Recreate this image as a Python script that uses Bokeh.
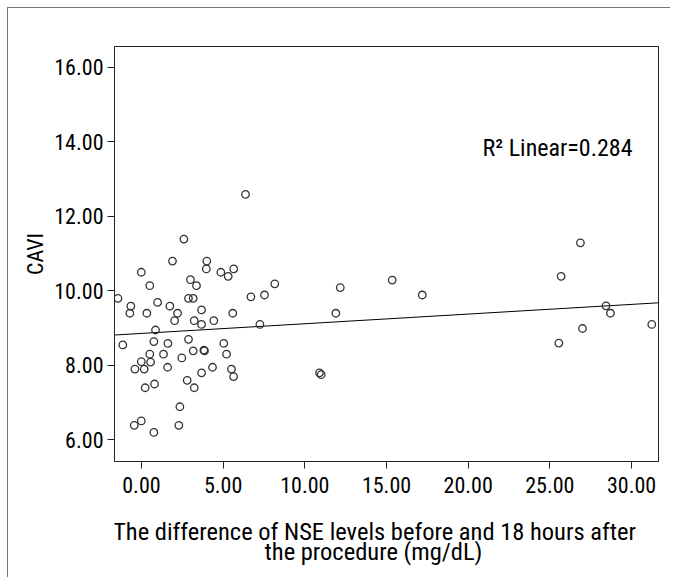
from bokeh.plotting import figure
from bokeh.layouts import column
from bokeh.embed import file_html
from bokeh.resources import INLINE
from bokeh.models import NumeralTickFormatter, FixedTicker, Label, Range1d

# Data: NSE difference (x) vs CAVI (y)
nse_diff = [
    -1.14, 0.76, 1.62, 2.88, 5.04, 0.51, 1.35, -0.01, 0.56, 2.47,
    3.17, 3.82, 3.86, 5.21, -0.40, 0.17, 1.60, 4.35, 5.51, 3.68,
    5.64, 2.80, 0.80, 0.23, 3.23, 2.35, -0.01, -0.44, 2.29, 0.76,
    6.37, 2.60, 1.90, 4.00, -0.01, 3.97, 4.86, 5.31, 5.65, 3.00,
    3.37, 0.51, 8.16, -1.44, 2.88, 3.17, 6.70, 7.53, -0.65, -0.71,
    0.99, 1.74, 2.21, 0.33, 3.68, 5.59, 2.03, 3.23, 3.68, 4.43,
    7.25, 0.86,
    26.87, 25.69, 15.35, 12.17, 17.19, 11.90, 28.44, 28.71, 31.24, 27.00,
    25.55, 10.90, 11.00,
]
cavi = [
    8.55, 8.64, 8.59, 8.70, 8.59, 8.30, 8.30, 8.10, 8.09, 8.20,
    8.39, 8.41, 8.39, 8.30, 7.90, 7.90, 7.95, 7.95, 7.90, 7.80,
    7.70, 7.60, 7.50, 7.40, 7.40, 6.89, 6.51, 6.39, 6.39, 6.20,
    12.59, 11.39, 10.80, 10.80, 10.50, 10.59, 10.50, 10.39, 10.59, 10.30,
    10.14, 10.14, 10.19, 9.80, 9.80, 9.80, 9.84, 9.89, 9.59, 9.40,
    9.69, 9.59, 9.40, 9.40, 9.49, 9.40, 9.20, 9.20, 9.10, 9.20,
    9.10, 8.95,
    11.29, 10.39, 10.29, 10.09, 9.89, 9.40, 9.60, 9.40, 9.10, 8.99,
    8.60, 7.80, 7.75,
]

# Fit line end points (as drawn in the reference)
fit_x = [-1.65, 31.65]
fit_y = [8.815, 9.68]

x_ticks = [0, 5, 10, 15, 20, 25, 30]
y_ticks = [6, 8, 10, 12, 14, 16]

r2_text = "R\u00b2 Linear=0.284"
x_title_1 = "The difference of NSE levels before and 18 hours after"
x_title_2 = "the procedure (mg/dL)"
y_title = "CAVI"

FONT = "'Roboto Condensed', 'DejaVu Sans Condensed', Roboto, sans-serif"

p = figure(width=662, height=500, output_backend="svg", toolbar_location=None,
           x_range=Range1d(-1.65, 31.65), y_range=Range1d(5.42, 16.56),
           min_border_left=106, min_border_top=38, min_border_right=12,
           min_border_bottom=47)

p.background_fill_color = "white"
p.border_fill_color = "white"
p.outline_line_color = "#222222"
p.outline_line_width = 1
p.xgrid.visible = False
p.ygrid.visible = False

for ax in (p.xaxis[0], p.yaxis[0]):
    ax.axis_line_color = "#222222"
    ax.major_tick_line_color = "#222222"
    ax.major_tick_out = 7
    ax.major_tick_in = 0
    ax.minor_tick_line_color = None
    ax.major_label_text_font = FONT
    ax.major_label_text_font_size = "22px"
    ax.major_label_text_color = "black"
    ax.formatter = NumeralTickFormatter(format="0.00")

p.xaxis.ticker = FixedTicker(ticks=x_ticks)
p.yaxis.ticker = FixedTicker(ticks=y_ticks)
p.xaxis.major_label_standoff = 8
p.yaxis.major_label_standoff = 4

p.yaxis.axis_label = y_title
p.yaxis.axis_label_text_font = FONT
p.yaxis.axis_label_text_font_size = "22px"
p.yaxis.axis_label_text_font_style = "normal"
p.yaxis.axis_label_text_color = "black"
p.yaxis.axis_label_standoff = 3

p.line(fit_x, fit_y, line_color="black", line_width=1)
p.scatter(nse_diff, cavi, marker="circle", size=7.5, fill_color=None,
          line_color="#333333", line_width=1.3)

p.add_layout(Label(x=25.47, y=13.83, text=r2_text, text_font=FONT,
                   text_font_size="24px", text_align="center",
                   text_baseline="middle", text_color="black"))

# Strip below the chart holding the two-line x title.
# Its frame is aligned with the chart frame (canvas px 106..650), so the
# x range is expressed in canvas pixels.
t = figure(width=662, height=69, output_backend="svg", toolbar_location=None,
           x_range=Range1d(106, 650), y_range=Range1d(69, 0),
           x_axis_location=None, y_axis_location=None,
           min_border_left=0, min_border_right=0, min_border_top=0,
           min_border_bottom=0)
t.outline_line_color = None
t.background_fill_color = "white"
t.border_fill_color = "white"
t.xgrid.visible = False
t.ygrid.visible = False
t.add_layout(Label(x=366, y=23, text=x_title_1, text_font=FONT,
                   text_font_size="24.5px", text_align="center",
                   text_baseline="alphabetic", text_color="black"))
t.add_layout(Label(x=365, y=43, text=x_title_2, text_font=FONT,
                   text_font_size="24.5px", text_align="center",
                   text_baseline="alphabetic", text_color="black"))

layout = column(p, t, spacing=0)
layout.styles = {"margin-left": "7px", "margin-top": "7px",
                 "border-left": "1px solid #777", "border-top": "1px solid #777"}

open("out.html", "w").write(file_html(layout, INLINE))
